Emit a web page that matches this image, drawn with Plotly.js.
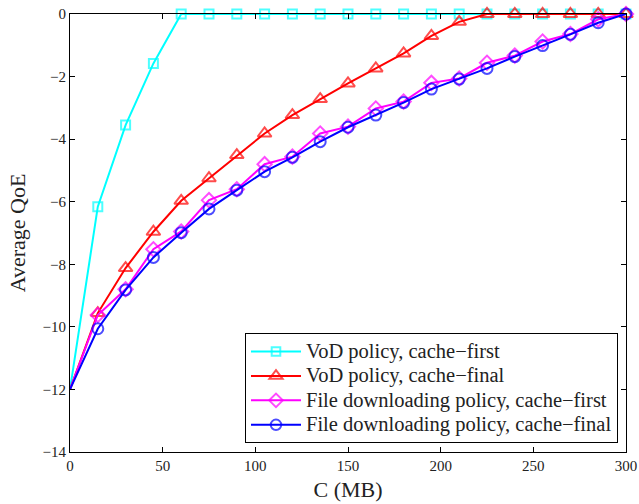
<!DOCTYPE html>
<html>
<head>
<meta charset="utf-8">
<script src="https://cdn.plot.ly/plotly-3.0.1.min.js"></script>
<style>html,body{margin:0;padding:0;background:#fff;}#chart{width:639px;height:504px;}</style>
</head>
<body>
<div id="chart"></div>
<script>
const cacheMB = [0, 15, 30, 45, 60, 75, 90, 105, 120, 135, 150, 165, 180, 195, 210, 225, 240, 255, 270, 285, 300];
const vodFirst = [-12, -6.16, -3.55, -1.58, 0, 0, 0, 0, 0, 0, 0, 0, 0, 0, 0, 0, 0, 0, 0, 0, 0];
const vodFinal = [-12, -9.56, -8.12, -6.96, -5.97, -5.25, -4.51, -3.82, -3.23, -2.72, -2.22, -1.74, -1.26, -0.70, -0.25, 0, 0, 0, 0, 0, 0];
const fileFirst = [-12, -9.62, -8.80, -7.52, -6.95, -5.95, -5.60, -4.80, -4.56, -3.82, -3.60, -3.02, -2.80, -2.20, -2.06, -1.56, -1.33, -0.88, -0.64, -0.17, 0];
const fileFinal = [-12, -10.06, -8.82, -7.78, -6.99, -6.23, -5.63, -5.04, -4.58, -4.08, -3.62, -3.23, -2.83, -2.40, -2.08, -1.74, -1.36, -1.01, -0.65, -0.28, 0];
const seriesNames = ['VoD policy, cache\u2212first', 'VoD policy, cache\u2212final', 'File downloading policy, cache\u2212first', 'File downloading policy, cache\u2212final'];
const xTicks = [0, 50, 100, 150, 200, 250, 300];
const yTicks = [0, -2, -4, -6, -8, -10, -12, -14];

const font = 'Liberation Serif, Times New Roman, serif';
function tr(y, name, color, symbol, size) {
  return {
    x: cacheMB, y: y, type: 'scatter', mode: 'lines+markers',
    name: '<span style="font-size:20.5px">' + name + '</span>',
    line: {color: color, width: 2},
    marker: {symbol: symbol, size: cacheMB.map((v, i) => i === 0 ? 0 : size), color: color, line: {color: color, width: 2}},
    cliponaxis: false
  };
}
const data = [
  tr(vodFirst, seriesNames[0], '#00FFFF', 'square-open', 9),
  tr(vodFinal, seriesNames[1], '#FF0000', 'triangle-up-open', 12),
  tr(fileFirst, seriesNames[2], '#FF00FF', 'diamond-open', 11),
  tr(fileFinal, seriesNames[3], '#0000FF', 'circle-open', 11)
];
const layout = {
  width: 639, height: 504,
  margin: {l: 70, r: 13, t: 14, b: 52},
  paper_bgcolor: '#fff', plot_bgcolor: '#fff',
  font: {family: font, color: '#222', size: 15},
  showlegend: true,
  legend: {
    x: 0.9856, xanchor: 'right', y: 0.02, yanchor: 'bottom',
    bgcolor: '#fff', bordercolor: '#000', borderwidth: 1,
    font: {family: font, size: 16.5, color: '#222'},
    tracegroupgap: 0, itemwidth: 50
  },
  xaxis: {
    range: [0, 300], tickvals: xTicks, ticks: 'inside', ticklen: 5, tickcolor: '#000',
    showline: true, linecolor: '#000', linewidth: 1, mirror: 'ticks', showgrid: false, zeroline: false,
    tickfont: {family: font, size: 15, color: '#222'},
    title: {text: 'C (MB)', font: {family: font, size: 22, color: '#222'}, standoff: 8}
  },
  yaxis: {
    range: [-14, 0], tickvals: yTicks, ticks: 'inside', ticklen: 5, tickcolor: '#000',
    showline: true, linecolor: '#000', linewidth: 1, mirror: 'ticks', showgrid: false, zeroline: false,
    tickfont: {family: font, size: 15, color: '#222'},
    title: {text: 'Average QoE', font: {family: font, size: 22, color: '#222'}, standoff: 10}
  }
};
Plotly.newPlot('chart', data, layout, {displayModeBar: false, staticPlot: true});
</script>
</body>
</html>
